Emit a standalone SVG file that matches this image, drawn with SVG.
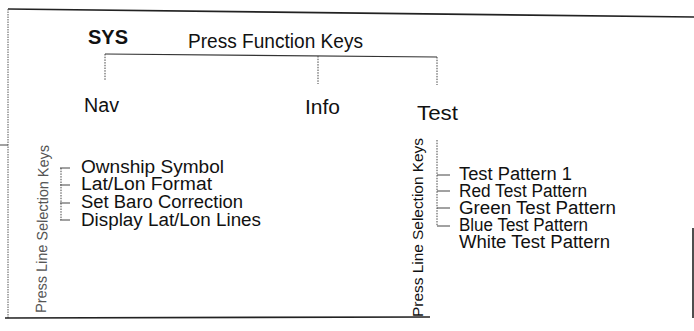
<svg xmlns="http://www.w3.org/2000/svg" width="694" height="331" viewBox="0 0 694 331">
<style>
text{font-family:"Liberation Sans",Arial,sans-serif;fill:#111}
.frame{stroke:#222;stroke-width:1.6;fill:none}
.fdot{stroke:#555;stroke-width:1;stroke-dasharray:1.5 1;fill:none}
.conn{stroke:#333;stroke-width:1.2;fill:none}
.dot{stroke:#444;stroke-width:1;stroke-dasharray:1.5 1.2;fill:none}
.tick{stroke:#444;stroke-width:1;fill:none}
.head{font-size:20px}
.item{font-size:18px}
.rot{font-size:15px}
</style>
<rect width="694" height="331" fill="#fff"/>
<g id="frame">
<line class="frame" x1="8" y1="9" x2="694" y2="17"/>
<line class="fdot" x1="8" y1="9" x2="8" y2="318"/>
<line class="frame" x1="5" y1="318" x2="430" y2="317"/>
<line class="frame" x1="693" y1="228" x2="693" y2="318"/>
<line class="tick" x1="0" y1="145" x2="8" y2="145"/>
</g>
<g id="sys"><text x="88" y="44" class="head" font-weight="bold" textLength="40" lengthAdjust="spacingAndGlyphs">SYS</text></g>
<g id="press-function"><text x="188" y="48" class="head" textLength="175" lengthAdjust="spacingAndGlyphs">Press Function Keys</text></g>
<g id="connectors">
<line class="conn" x1="105" y1="54" x2="437" y2="57"/>
<line class="dot" x1="105" y1="54" x2="105" y2="80"/>
<line class="dot" x1="318" y1="56" x2="318" y2="84"/>
<line class="dot" x1="437" y1="57" x2="437" y2="85"/>
<line class="dot" x1="61" y1="168" x2="61" y2="220"/>
<line class="tick" x1="60" y1="168" x2="70" y2="168"/>
<line class="tick" x1="60" y1="185" x2="70" y2="185"/>
<line class="tick" x1="60" y1="203" x2="70" y2="203"/>
<line class="tick" x1="60" y1="220" x2="70" y2="220"/>
<line class="dot" x1="437" y1="140" x2="437" y2="226"/>
<line class="tick" x1="437" y1="175" x2="450" y2="175"/>
<line class="tick" x1="437" y1="191" x2="450" y2="191"/>
<line class="tick" x1="437" y1="208" x2="450" y2="208"/>
<line class="tick" x1="437" y1="226" x2="450" y2="226"/>
</g>
<g id="nav"><text x="84" y="112" class="head" textLength="35" lengthAdjust="spacingAndGlyphs">Nav</text></g>
<g id="info"><text x="305" y="114" class="head" textLength="35" lengthAdjust="spacingAndGlyphs">Info</text></g>
<g id="test"><text x="417" y="120" class="head" textLength="41" lengthAdjust="spacingAndGlyphs">Test</text></g>
<g id="nav-keys"><text class="rot" transform="translate(46,313) rotate(-89)" style="fill:#555" textLength="168" lengthAdjust="spacingAndGlyphs">Press Line Selection Keys</text></g>
<g id="nav-list">
<text x="81" y="173" class="item" textLength="143" lengthAdjust="spacingAndGlyphs">Ownship Symbol</text>
<text x="81" y="190" class="item" textLength="131" lengthAdjust="spacingAndGlyphs">Lat/Lon Format</text>
<text x="81" y="208" class="item" textLength="162" lengthAdjust="spacingAndGlyphs">Set Baro Correction</text>
<text x="81" y="226" class="item" textLength="180" lengthAdjust="spacingAndGlyphs">Display Lat/Lon Lines</text>
</g>
<g id="test-keys"><text class="rot" transform="translate(423,317) rotate(-90)" textLength="179" lengthAdjust="spacingAndGlyphs">Press Line Selection Keys</text></g>
<g id="test-list">
<text x="459" y="180" class="item" textLength="113" lengthAdjust="spacingAndGlyphs">Test Pattern 1</text>
<text x="459" y="197" class="item" textLength="128" lengthAdjust="spacingAndGlyphs">Red Test Pattern</text>
<text x="459" y="214" class="item" textLength="157" lengthAdjust="spacingAndGlyphs">Green Test Pattern</text>
<text x="459" y="231" class="item" textLength="129" lengthAdjust="spacingAndGlyphs">Blue Test Pattern</text>
<text x="459" y="248" class="item" textLength="151" lengthAdjust="spacingAndGlyphs">White Test Pattern</text>
</g>
</svg>
